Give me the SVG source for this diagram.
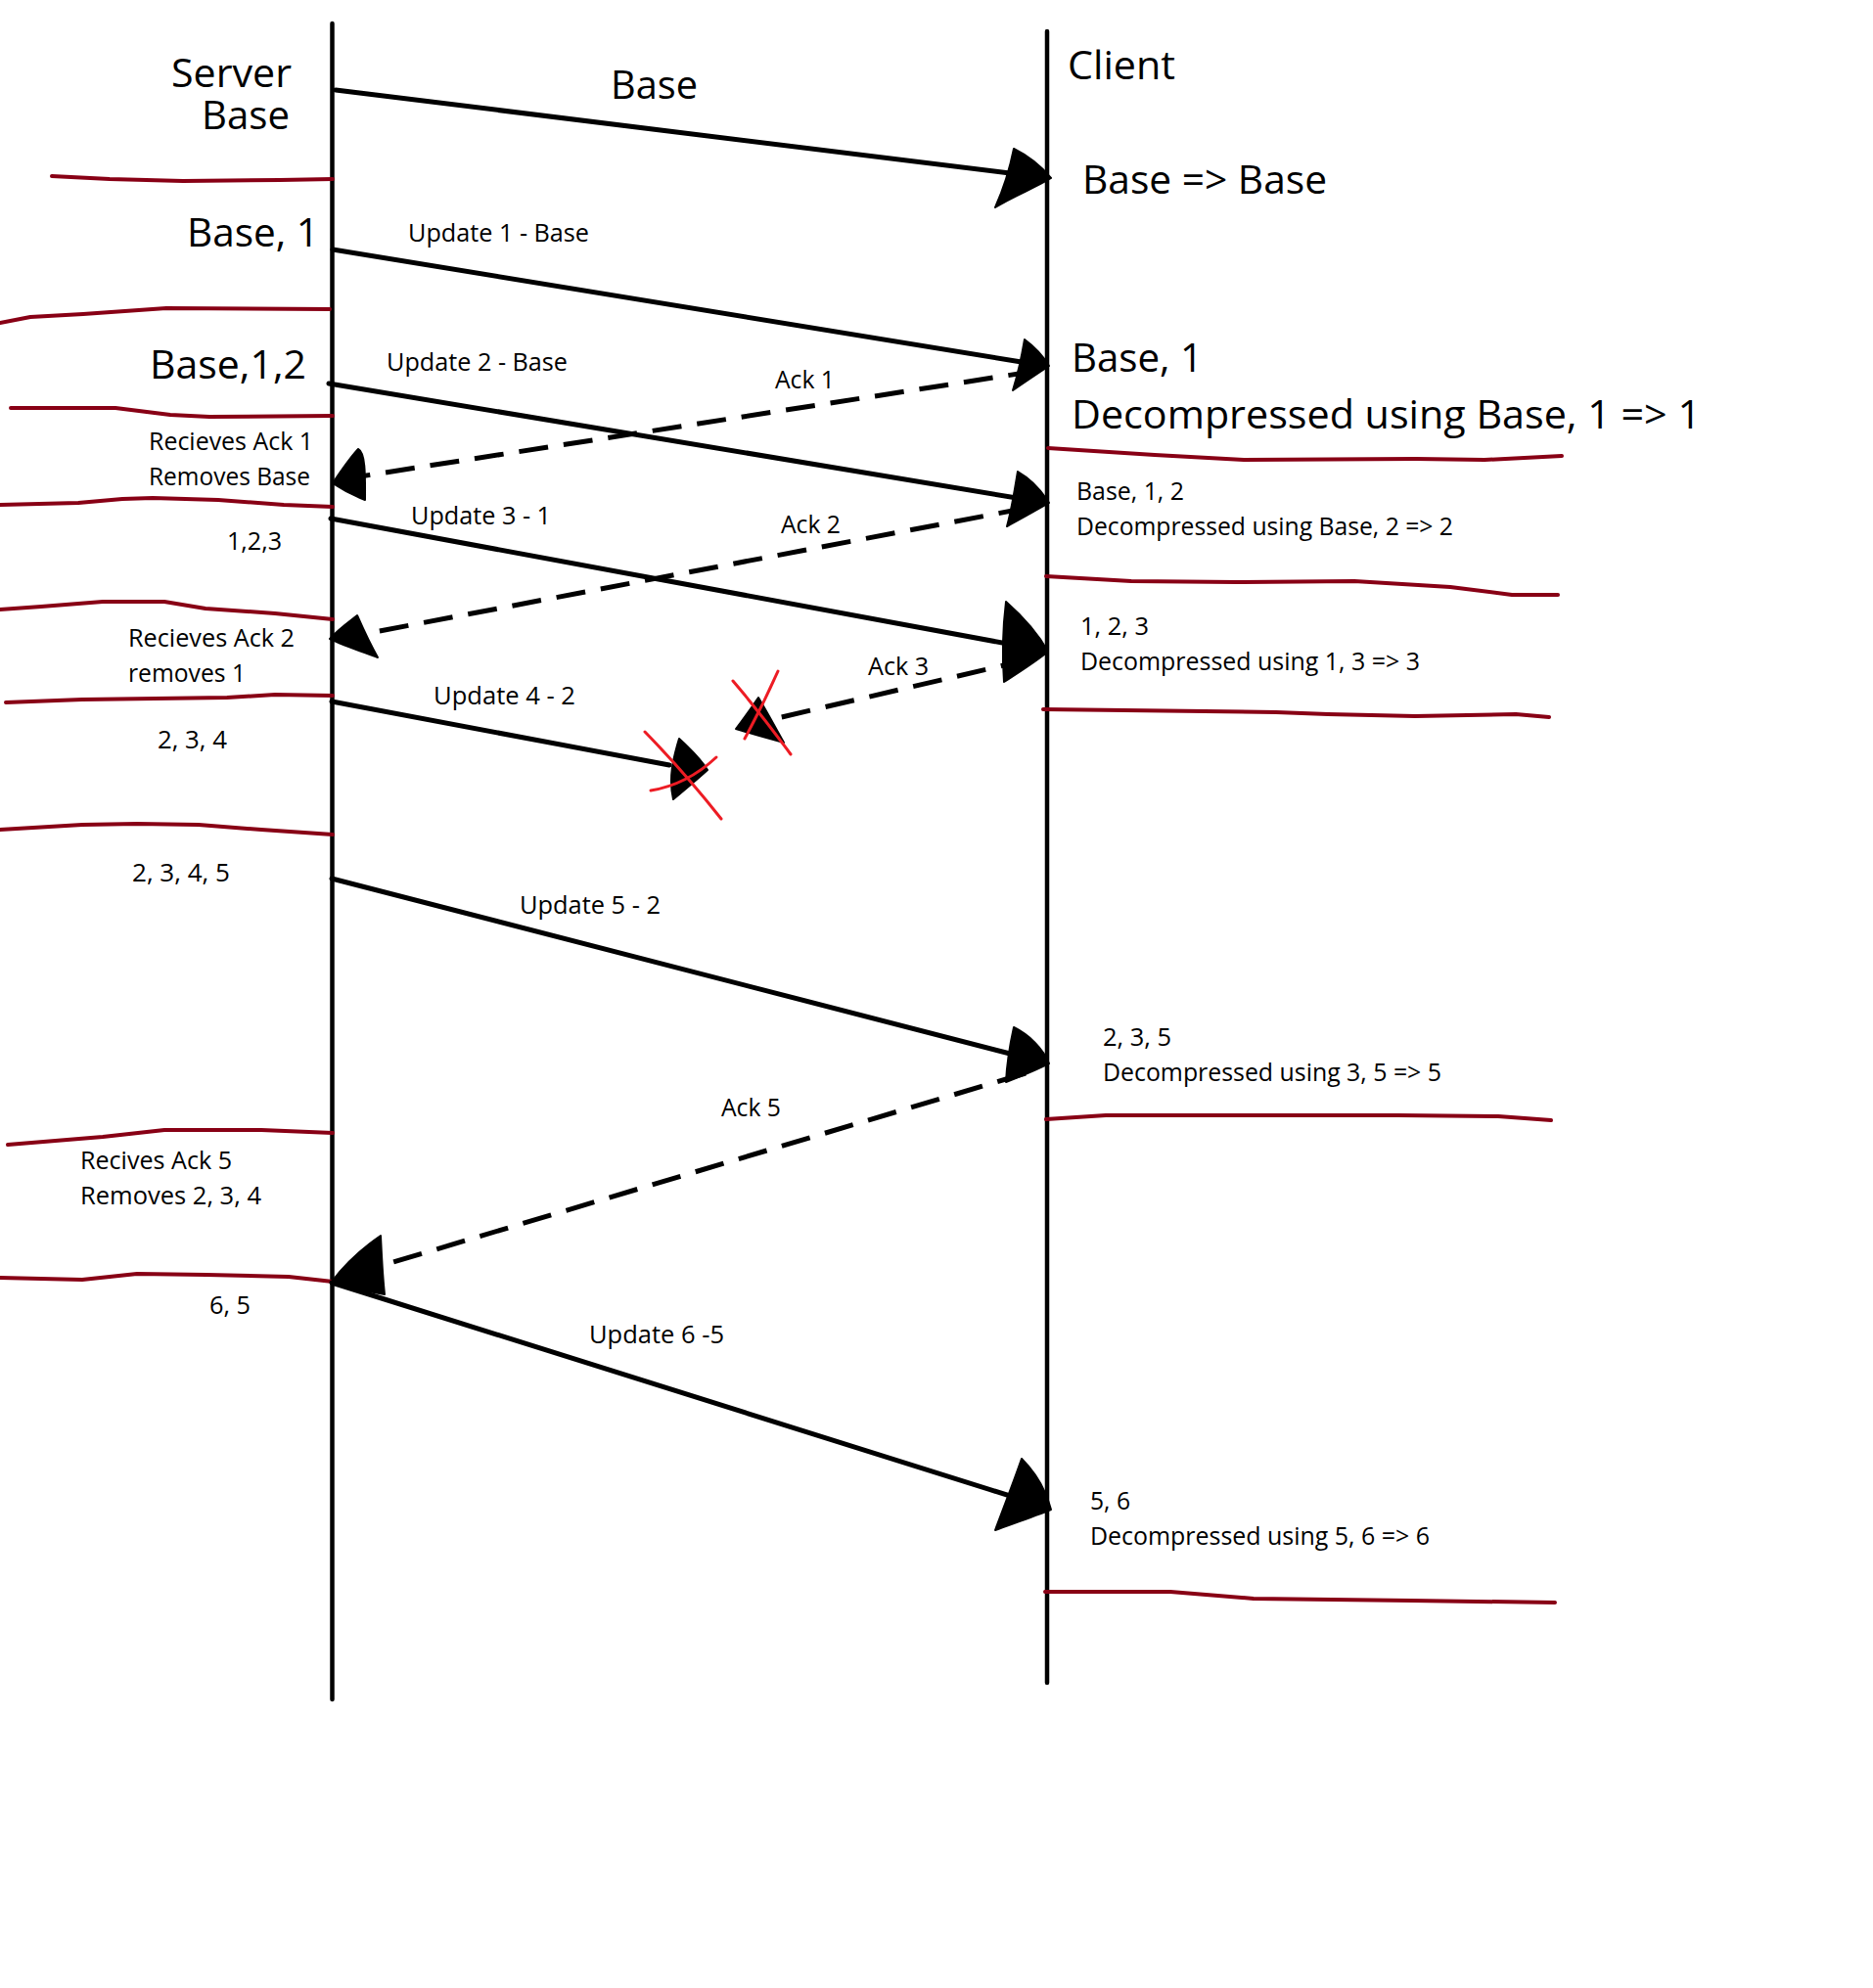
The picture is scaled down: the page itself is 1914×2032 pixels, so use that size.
<svg xmlns="http://www.w3.org/2000/svg" width="1914" height="2032" viewBox="0 0 1914 2032">
  <style>
    .bg { fill: #ffffff; }
    .life { stroke: #000; stroke-width: 4.5; fill: none; stroke-linecap: round; }
    .msg { stroke: #000; stroke-width: 5; fill: none; stroke-linecap: round; }
    .ack { stroke: #000; stroke-width: 5; fill: none; stroke-dasharray: 30 16; }
    .head { fill: #000; stroke: #000; stroke-width: 2; stroke-linejoin: round; }
    .sep { stroke: #880015; stroke-width: 4; fill: none; stroke-linejoin: round; stroke-linecap: round; }
    .lost { stroke: #ed1c24; stroke-width: 3; fill: none; stroke-linecap: round; }
    .t { font-family: "Open Sans", "Noto Sans", "DejaVu Sans", sans-serif; fill: #000; }
    .lg { font-size: 41px; }
    .sm { font-size: 26px; }
  </style>

  <rect class="bg" x="0" y="0" width="1914" height="2032"/>

  <!-- Server lifeline with its state history -->
  <g id="server">
    <line class="life" x1="339.5" y1="24" x2="339.5" y2="1737"/>
    <text class="t lg"><tspan x="175" y="89" textLength="123" lengthAdjust="spacingAndGlyphs">Server</tspan><tspan x="206" y="132" textLength="90" lengthAdjust="spacingAndGlyphs">Base</tspan></text>
  </g>

  <g id="server-states">
    <g id="srv-sep">
      <path class="sep" d="M53,180 L112,183 L187,185 L286,184 L340,183"/>
      <path class="sep" d="M0,330 L31,324 L85,321 L170,315 L337,316"/>
      <path class="sep" d="M11,417 L118,417 L174,424 L214,426 L340,425"/>
      <path class="sep" d="M0,516 L80,514 L125,510 L156,509 L223,511 L290,516 L340,518"/>
      <path class="sep" d="M0,623 L42,620 L105,615 L168,615 L210,622 L281,627 L340,633"/>
      <path class="sep" d="M6,718 L84,715 L232,713 L281,710 L340,711"/>
      <path class="sep" d="M0,848 L84,843 L140,842 L203,843 L267,848 L340,853"/>
      <path class="sep" d="M8,1170 L105,1162 L168,1155 L267,1155 L340,1158"/>
      <path class="sep" d="M0,1306 L84,1308 L140,1302 L211,1303 L295,1305 L340,1310"/>
    </g>
    <g id="srv-base-1">
      <text class="t lg" x="191" y="252" textLength="135" lengthAdjust="spacingAndGlyphs">Base, 1</text>
    </g>
    <g id="srv-base-1-2">
      <text class="t lg" x="153" y="387" textLength="160" lengthAdjust="spacingAndGlyphs">Base,1,2</text>
    </g>
    <g id="srv-ack-1">
      <text class="t sm" x="152" y="460" textLength="168" lengthAdjust="spacingAndGlyphs">Recieves Ack 1</text>
      <text class="t sm" x="152" y="496" textLength="165" lengthAdjust="spacingAndGlyphs">Removes Base</text>
    </g>
    <g id="srv-1-2-3">
      <text class="t sm" x="232" y="562" textLength="56" lengthAdjust="spacingAndGlyphs">1,2,3</text>
    </g>
    <g id="srv-ack-2">
      <text class="t sm" x="131" y="661" textLength="170" lengthAdjust="spacingAndGlyphs">Recieves Ack 2</text>
      <text class="t sm" x="131" y="697" textLength="120" lengthAdjust="spacingAndGlyphs">removes 1</text>
    </g>
    <g id="srv-2-3-4">
      <text class="t sm" x="161" y="765" textLength="71" lengthAdjust="spacingAndGlyphs">2, 3, 4</text>
    </g>
    <g id="srv-2-3-4-5">
      <text class="t sm" x="135" y="901" textLength="100" lengthAdjust="spacingAndGlyphs">2, 3, 4, 5</text>
    </g>
    <g id="srv-ack-5">
      <text class="t sm" x="82" y="1195" textLength="155" lengthAdjust="spacingAndGlyphs">Recives Ack 5</text>
      <text class="t sm" x="82" y="1231" textLength="185" lengthAdjust="spacingAndGlyphs">Removes 2, 3, 4</text>
    </g>
    <g id="srv-6-5">
      <text class="t sm" x="214" y="1343" textLength="42" lengthAdjust="spacingAndGlyphs">6, 5</text>
    </g>
  </g>

  <!-- Client lifeline with its state history -->
  <g id="client">
    <line class="life" x1="1070" y1="32" x2="1070" y2="1720"/>
    <text class="t lg" x="1091" y="81" textLength="110" lengthAdjust="spacingAndGlyphs">Client</text>
  </g>

  <g id="client-states">
    <g id="cli-sep">
      <path class="sep" d="M1071,458 L1180,465 L1271,470 L1447,469 L1517,470 L1596,466"/>
      <path class="sep" d="M1069,589 L1156,594 L1263,595 L1384,594 L1482,600 L1545,608 L1592,608"/>
      <path class="sep" d="M1066,725 L1304,728 L1357,730 L1446,732 L1549,730 L1583,733"/>
      <path class="sep" d="M1069,1144 L1130,1140 L1429,1140 L1531,1141 L1585,1145"/>
      <path class="sep" d="M1068,1627 L1196,1627 L1281,1634 L1442,1636 L1589,1638"/>
    </g>
    <g id="cli-base">
      <text class="t lg" x="1106" y="198" textLength="250" lengthAdjust="spacingAndGlyphs">Base =&gt; Base</text>
    </g>
    <g id="cli-base-1">
      <text class="t lg" x="1095" y="380" textLength="134" lengthAdjust="spacingAndGlyphs">Base, 1</text>
      <text class="t lg" x="1095" y="438" textLength="643" lengthAdjust="spacingAndGlyphs">Decompressed using Base, 1 =&gt; 1</text>
    </g>
    <g id="cli-base-1-2">
      <text class="t sm" x="1100" y="511" textLength="110" lengthAdjust="spacingAndGlyphs">Base, 1, 2</text>
      <text class="t sm" x="1100" y="547" textLength="385" lengthAdjust="spacingAndGlyphs">Decompressed using Base, 2 =&gt; 2</text>
    </g>
    <g id="cli-1-2-3">
      <text class="t sm" x="1104" y="649" textLength="70" lengthAdjust="spacingAndGlyphs">1, 2, 3</text>
      <text class="t sm" x="1104" y="685" textLength="347" lengthAdjust="spacingAndGlyphs">Decompressed using 1, 3 =&gt; 3</text>
    </g>
    <g id="cli-2-3-5">
      <text class="t sm" x="1127" y="1069" textLength="70" lengthAdjust="spacingAndGlyphs">2, 3, 5</text>
      <text class="t sm" x="1127" y="1105" textLength="346" lengthAdjust="spacingAndGlyphs">Decompressed using 3, 5 =&gt; 5</text>
    </g>
    <g id="cli-5-6">
      <text class="t sm" x="1114" y="1543" textLength="41" lengthAdjust="spacingAndGlyphs">5, 6</text>
      <text class="t sm" x="1114" y="1579" textLength="347" lengthAdjust="spacingAndGlyphs">Decompressed using 5, 6 =&gt; 6</text>
    </g>
  </g>

  <!-- Messages between server and client -->
  <g id="connectors">
    <g id="msg-base">
      <path class="msg" d="M343,92 L1040,178"/>
      <path class="head" d="M1036,152 C1052,160 1064,170 1074,182 C1058,192 1036,200 1017,212 C1026,192 1032,172 1036,152 Z"/>
      <text class="t lg" x="624" y="101" textLength="89" lengthAdjust="spacingAndGlyphs">Base</text>
    </g>
    <g id="msg-update-1">
      <path class="msg" d="M340,255 L1050,371"/>
      <path class="head" d="M1047,347 C1058,355 1066,364 1072,374 C1060,382 1048,390 1035,399 C1040,383 1044,365 1047,347 Z"/>
      <text class="t sm" x="417" y="247" textLength="185" lengthAdjust="spacingAndGlyphs">Update 1 - Base</text>
    </g>
    <g id="msg-update-2">
      <path class="msg" d="M336,392 L1045,510"/>
      <path class="head" d="M1040,482 C1054,490 1064,501 1072,514 C1058,522 1044,530 1029,538 C1034,520 1037,500 1040,482 Z"/>
      <text class="t sm" x="395" y="379" textLength="185" lengthAdjust="spacingAndGlyphs">Update 2 - Base</text>
    </g>
    <g id="msg-ack-1">
      <path class="ack" d="M1060,379 L368,487"/>
      <path class="head" d="M366,459 C374,463 373,490 373,511 C360,506 349,500 340,494 C348,482 356,470 366,459 Z"/>
      <text class="t sm" x="792" y="397" textLength="61" lengthAdjust="spacingAndGlyphs">Ack 1</text>
    </g>
    <g id="msg-update-3">
      <path class="msg" d="M338,530 L1035,659"/>
      <path class="head" d="M1028,615 C1045,630 1062,650 1071,666 C1056,678 1040,688 1026,697 C1024,670 1025,640 1028,615 Z"/>
      <text class="t sm" x="420" y="536" textLength="143" lengthAdjust="spacingAndGlyphs">Update 3 - 1</text>
    </g>
    <g id="msg-ack-2">
      <path class="ack" d="M1050,519 L372,648"/>
      <path class="head" d="M365,629 C372,645 378,658 386,672 C370,666 352,660 337,653 C345,644 356,636 365,629 Z"/>
      <text class="t sm" x="798" y="545" textLength="61" lengthAdjust="spacingAndGlyphs">Ack 2</text>
    </g>
    <g id="msg-ack-3">
      <path class="ack" d="M1052,674 L790,735"/>
      <path class="head" d="M775,713 C784,728 792,743 801,759 C786,755 768,750 752,745 C760,735 768,723 775,713 Z"/>
      <path class="lost" d="M749,696 Q778,730 808,771"/>
      <path class="lost" d="M795,686 Q779,722 761,755"/>
      <text class="t sm" x="887" y="690" textLength="62" lengthAdjust="spacingAndGlyphs">Ack 3</text>
    </g>
    <g id="msg-update-4">
      <path class="msg" d="M339,717 L684,782"/>
      <path class="head" d="M694,755 C705,765 716,776 723,787 C712,797 700,807 688,817 C683,795 688,775 694,755 Z"/>
      <path class="lost" d="M659,748 Q700,790 737,837"/>
      <path class="lost" d="M665,808 Q702,802 732,774"/>
      <text class="t sm" x="443" y="720" textLength="145" lengthAdjust="spacingAndGlyphs">Update 4 - 2</text>
    </g>
    <g id="msg-update-5">
      <path class="msg" d="M339,898 L1040,1079"/>
      <path class="head" d="M1036,1050 C1052,1058 1066,1072 1072,1087 C1058,1094 1043,1100 1028,1106 C1029,1086 1032,1068 1036,1050 Z"/>
      <text class="t sm" x="531" y="934" textLength="144" lengthAdjust="spacingAndGlyphs">Update 5 - 2</text>
    </g>
    <g id="msg-ack-5">
      <path class="ack" d="M1048,1097 L392,1293"/>
      <path class="head" d="M389,1263 C390,1285 391,1305 393,1323 C375,1320 356,1316 339,1310 C352,1293 370,1276 389,1263 Z"/>
      <text class="t sm" x="737" y="1141" textLength="61" lengthAdjust="spacingAndGlyphs">Ack 5</text>
    </g>
    <g id="msg-update-6">
      <path class="msg" d="M339,1311 L1045,1533"/>
      <path class="head" d="M1044,1491 C1058,1505 1069,1524 1074,1543 C1056,1550 1036,1557 1017,1564 C1026,1540 1036,1514 1044,1491 Z"/>
      <text class="t sm" x="602" y="1373" textLength="138" lengthAdjust="spacingAndGlyphs">Update 6 -5</text>
    </g>
  </g>
</svg>
